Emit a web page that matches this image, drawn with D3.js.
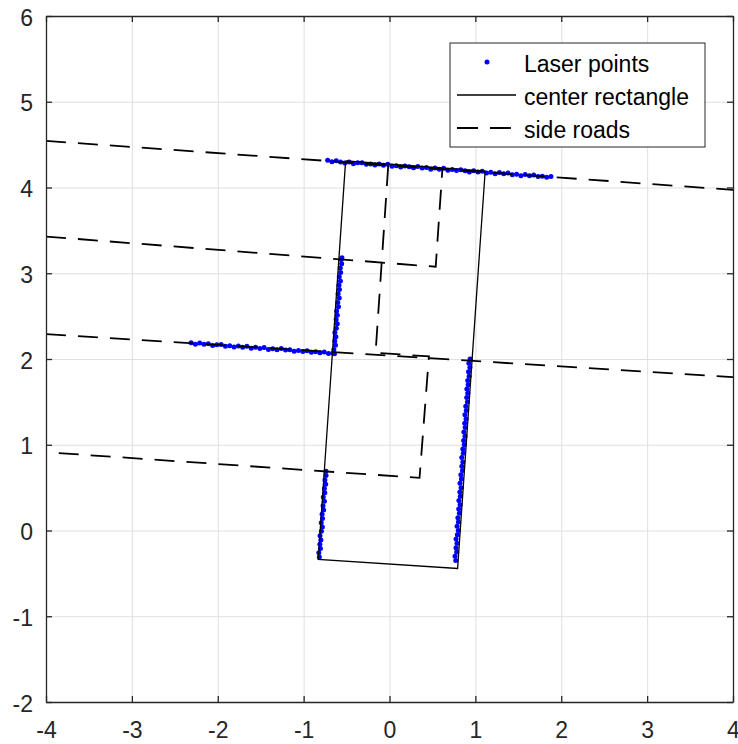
<!DOCTYPE html>
<html>
<head>
<meta charset="utf-8">
<script src="https://cdnjs.cloudflare.com/ajax/libs/d3/7.8.5/d3.min.js"></script>
<style>
    body { margin: 0; background: #fff; }
    text { font-family: "Liberation Sans", Arial, sans-serif; }
</style>
</head>
<body>
<div id="chart"></div>
<script>
"use strict"
// Axis ticks
var xTicks = [-4, -3, -2, -1, 0, 1, 2, 3, 4];
var yTicks = [-2, -1, 0, 1, 2, 3, 4, 5, 6];
var legendLabels = ["Laser points", "center rectangle", "side roads"];

// Center rectangle corners (closed)
var rectangle = [[-0.511, 4.310], [1.114, 4.190], [0.793, -0.443], [-0.830, -0.338], [-0.511, 4.310]];

// Side roads, each one a dashed polyline
var roadTop = [[-4, 4.544], [4, 3.972]];
var roadLeftUpper = [[-4, 3.428], [0.538, 3.076], [0.616, 4.213]];
var roadMiddle = [[-0.015, 4.250], [-0.162, 2.073], [0.459, 2.030], [0.350, 0.614], [-4, 0.913]];
var roadLower = [[-4, 2.289], [4, 1.788]];

var topWall = [
    [-0.72, 4.317], [-0.67, 4.301], [-0.62, 4.313], [-0.57, 4.298], [-0.52, 4.287], [-0.47, 4.297],
    [-0.42, 4.277], [-0.37, 4.288], [-0.32, 4.290], [-0.27, 4.272], [-0.22, 4.275], [-0.17, 4.261],
    [-0.12, 4.274], [-0.07, 4.260], [-0.02, 4.271], [0.03, 4.248], [0.08, 4.255], [0.13, 4.238],
    [0.18, 4.252], [0.23, 4.241], [0.28, 4.231], [0.33, 4.244], [0.38, 4.226], [0.43, 4.232],
    [0.48, 4.212], [0.53, 4.228], [0.58, 4.214], [0.63, 4.224], [0.68, 4.201], [0.73, 4.209],
    [0.78, 4.197], [0.83, 4.207], [0.88, 4.195], [0.93, 4.181], [0.98, 4.194], [1.03, 4.181],
    [1.08, 4.190], [1.13, 4.170], [1.18, 4.177], [1.23, 4.161], [1.28, 4.174], [1.33, 4.160],
    [1.38, 4.170], [1.43, 4.149], [1.48, 4.155], [1.53, 4.138], [1.58, 4.151], [1.63, 4.137],
    [1.68, 4.146], [1.73, 4.127], [1.78, 4.132], [1.83, 4.119], [1.88, 4.128]
];
var leftRoadWall = [
    [-2.31, 2.190], [-2.26, 2.173], [-2.21, 2.187], [-2.16, 2.171], [-2.11, 2.177], [-2.06, 2.156],
    [-2.01, 2.167], [-1.96, 2.170], [-1.91, 2.150], [-1.86, 2.154], [-1.81, 2.139], [-1.76, 2.153],
    [-1.71, 2.138], [-1.66, 2.148], [-1.61, 2.126], [-1.56, 2.136], [-1.51, 2.123], [-1.46, 2.133],
    [-1.41, 2.110], [-1.36, 2.120], [-1.31, 2.107], [-1.26, 2.121], [-1.21, 2.104], [-1.16, 2.109],
    [-1.11, 2.090], [-1.06, 2.100], [-1.01, 2.087], [-0.96, 2.097], [-0.91, 2.078], [-0.86, 2.085],
    [-0.81, 2.074], [-0.76, 2.082], [-0.71, 2.065], [-0.66, 2.070]
];
var leftUpperWall = [
    [-0.641, 2.06], [-0.648, 2.11], [-0.629, 2.16], [-0.637, 2.21], [-0.624, 2.26], [-0.636, 2.31],
    [-0.619, 2.36], [-0.608, 2.41], [-0.621, 2.46], [-0.608, 2.51], [-0.615, 2.56], [-0.594, 2.61],
    [-0.602, 2.66], [-0.585, 2.71], [-0.598, 2.76], [-0.583, 2.81], [-0.588, 2.86], [-0.572, 2.91],
    [-0.585, 2.96], [-0.569, 3.01], [-0.573, 3.06], [-0.557, 3.11], [-0.562, 3.16], [-0.554, 3.18]
];
var rightWall = [
    [0.771, -0.35], [0.763, -0.30], [0.782, -0.25], [0.774, -0.20], [0.786, -0.15], [0.775, -0.10],
    [0.790, -0.05], [0.801, 0.00], [0.787, 0.05], [0.802, 0.10], [0.796, 0.15], [0.813, 0.20],
    [0.806, 0.25], [0.822, 0.30], [0.808, 0.35], [0.824, 0.40], [0.819, 0.45], [0.833, 0.50],
    [0.821, 0.55], [0.837, 0.60], [0.831, 0.65], [0.850, 0.70], [0.842, 0.75], [0.854, 0.80],
    [0.841, 0.85], [0.859, 0.90], [0.854, 0.95], [0.870, 1.00], [0.863, 1.05], [0.879, 1.10],
    [0.866, 1.15], [0.881, 1.20], [0.876, 1.25], [0.891, 1.30], [0.878, 1.35], [0.894, 1.40],
    [0.888, 1.45], [0.907, 1.50], [0.899, 1.55], [0.911, 1.60], [0.901, 1.65], [0.916, 1.70],
    [0.911, 1.75], [0.927, 1.80], [0.920, 1.85], [0.936, 1.90], [0.924, 1.95], [0.938, 2.00]
];
var leftLowerWall = [
    [-0.817, -0.31], [-0.823, -0.26], [-0.804, -0.21], [-0.811, -0.16], [-0.799, -0.11], [-0.809, -0.06],
    [-0.793, -0.01], [-0.782, 0.04], [-0.795, 0.09], [-0.780, 0.14], [-0.785, 0.19], [-0.767, 0.24],
    [-0.774, 0.29], [-0.758, 0.34], [-0.771, 0.39], [-0.753, 0.44], [-0.758, 0.49], [-0.743, 0.54],
    [-0.752, 0.59], [-0.739, 0.64], [-0.739, 0.69]
];

var width = 738;
var height = 744;
var margin = { top: 16, right: 5, bottom: 42, left: 46 };
var drawWidth = width - margin.left - margin.right;
var drawHeight = height - margin.top - margin.bottom;
var axisColor = "#262626";
var fontSize = "23px";

var xScale = d3.scaleLinear().domain([-4, 4]).range([0, drawWidth]);
var yScale = d3.scaleLinear().domain([-2, 6]).range([drawHeight, 0]);
var line = d3.line().x(function (d) { return xScale(d[0]); }).y(function (d) { return yScale(d[1]); });
var plainNumber = function (d) { return String(d); }; // plain hyphen like MATLAB, not the unicode minus

var svg = d3.select("#chart").append("svg")
    .attr("width", width)
    .attr("height", height);

var g = svg.append("g")
    .attr("transform", "translate(" + margin.left + "," + margin.top + ")");

g.append("clipPath").attr("id", "plotClip")
    .append("rect").attr("width", drawWidth).attr("height", drawHeight);

// Grid lines
g.append("g").attr("class", "grid")
    .attr("transform", "translate(0," + drawHeight + ")")
    .call(d3.axisBottom(xScale).tickValues(xTicks).tickSize(-drawHeight).tickFormat(""));
g.append("g").attr("class", "grid")
    .call(d3.axisLeft(yScale).tickValues(yTicks).tickSize(-drawWidth).tickFormat(""));
g.selectAll(".grid .domain").remove();
g.selectAll(".grid line").attr("stroke", "#dfdfdf").attr("stroke-width", 1);

var plot = g.append("g").attr("clip-path", "url(#plotClip)");

// Laser points first, so the lines sit on top like in the original plot
var laserPoints = topWall.concat(leftRoadWall, leftUpperWall, rightWall, leftLowerWall);
plot.selectAll(".laser").data(laserPoints).enter()
    .append("circle")
    .attr("class", "laser")
    .attr("cx", function (d) { return xScale(d[0]); })
    .attr("cy", function (d) { return yScale(d[1]); })
    .attr("r", 2.5)
    .attr("fill", "#0000ff");

plot.append("path")
    .datum(rectangle)
    .attr("fill", "none")
    .attr("stroke", "#000")
    .attr("stroke-width", 1.3)
    .attr("stroke-linejoin", "miter")
    .attr("d", line);

plot.selectAll(".road").data([roadTop, roadLeftUpper, roadMiddle, roadLower]).enter()
    .append("path")
    .attr("class", "road")
    .attr("fill", "none")
    .attr("stroke", "#000")
    .attr("stroke-width", 1.8)
    .attr("stroke-dasharray", "20,12")
    .attr("d", line);

// Axes with inward ticks on all four sides
var tickLen = 6;
g.append("g").attr("class", "axis")
    .attr("transform", "translate(0," + drawHeight + ")")
    .call(d3.axisBottom(xScale).tickValues(xTicks).tickSizeInner(-tickLen).tickSizeOuter(0).tickPadding(20).tickFormat(plainNumber));
g.append("g").attr("class", "axis")
    .call(d3.axisTop(xScale).tickValues(xTicks).tickSizeInner(-tickLen).tickSizeOuter(0).tickFormat(""));
g.append("g").attr("class", "axis y")
    .call(d3.axisLeft(yScale).tickValues(yTicks).tickSizeInner(-tickLen).tickSizeOuter(0).tickPadding(13).tickFormat(plainNumber));
g.append("g").attr("class", "axis")
    .attr("transform", "translate(" + drawWidth + ",0)")
    .call(d3.axisRight(yScale).tickValues(yTicks).tickSizeInner(-tickLen).tickSizeOuter(0).tickFormat(""));

g.selectAll(".axis .domain").attr("stroke", axisColor).attr("stroke-width", 1.3);
g.selectAll(".axis line").attr("stroke", axisColor).attr("stroke-width", 1.3);
g.selectAll(".axis text")
    .attr("fill", axisColor)
    .style("font-size", fontSize)
    .style("font-family", "'Liberation Sans', Arial, sans-serif");
g.selectAll(".axis.y text").attr("dy", "0.4em");

// Legend
var legend = svg.append("g").attr("transform", "translate(450,43)");
legend.append("rect")
    .attr("width", 255)
    .attr("height", 104)
    .attr("fill", "#fff")
    .attr("stroke", axisColor)
    .attr("stroke-width", 1);

var rowY = [21, 54, 87];
legend.append("circle").attr("cx", 37).attr("cy", rowY[0] - 2).attr("r", 2.5).attr("fill", "#0000ff");
legend.append("line").attr("x1", 7).attr("x2", 66).attr("y1", rowY[1] - 2).attr("y2", rowY[1] - 2)
    .attr("stroke", "#000").attr("stroke-width", 1.3);
legend.append("line").attr("x1", 7).attr("x2", 61).attr("y1", rowY[2] - 2).attr("y2", rowY[2] - 2)
    .attr("stroke", "#000").attr("stroke-width", 1.8).attr("stroke-dasharray", "21,12");

legend.selectAll(".label").data(legendLabels).enter()
    .append("text")
    .attr("class", "label")
    .attr("x", 74)
    .attr("y", function (d, i) { return rowY[i]; })
    .attr("dy", "0.35em")
    .attr("fill", "#000")
    .style("font-size", fontSize)
    .text(function (d) { return d; });
</script>
</body>
</html>
